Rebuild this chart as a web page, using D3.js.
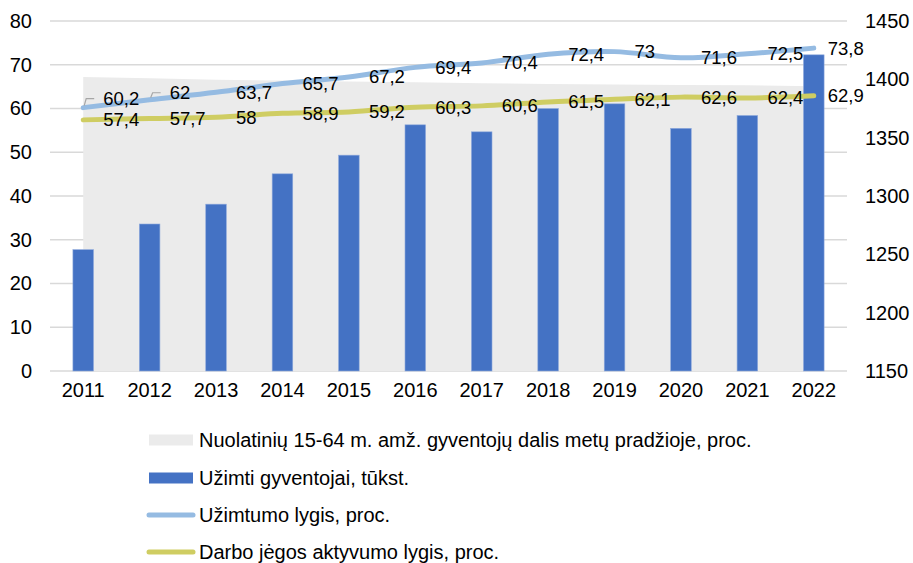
<!DOCTYPE html>
<html>
<head>
<meta charset="utf-8">
<script src="https://cdn.jsdelivr.net/npm/d3@7"></script>
<style>
  body { margin: 0; background: #fff; }
  svg { font-family: "Liberation Sans", Arial, sans-serif; }
</style>
</head>
<body>
<svg id="chart" width="913" height="563"></svg>
<script>
var years = ["2011", "2012", "2013", "2014", "2015", "2016", "2017", "2018", "2019", "2020", "2021", "2022"];
var populationShare = [67.2, 66.9, 66.6, 66.4, 66.2, 66.0, 65.8, 65.6, 65.5, 65.4, 65.3, 65.1];
var employed = [1254, 1276, 1293, 1319, 1335, 1361, 1355, 1375, 1379, 1358, 1369, 1421];
var employmentRate = [60.2, 62, 63.7, 65.7, 67.2, 69.4, 70.4, 72.4, 73, 71.6, 72.5, 73.8];
var activityRate = [57.4, 57.7, 58, 58.9, 59.2, 60.3, 60.6, 61.5, 62.1, 62.6, 62.4, 62.9];
var leftTicks = [0, 10, 20, 30, 40, 50, 60, 70, 80];
var rightTicks = [1150, 1200, 1250, 1300, 1350, 1400, 1450];

var legendNames = [
  "Nuolatinių 15-64 m. amž. gyventojų dalis metų pradžioje, proc.",
  "Užimti gyventojai, tūkst.",
  "Užimtumo lygis, proc.",
  "Darbo jėgos aktyvumo lygis, proc."
];

var colors = {
  area: "#ebebeb",
  bar: "#4472c4",
  employment: "#95bbe2",
  activity: "#cfcd62",
  grid: "#d9d9d9"
};

var plotLeft = 50, plotRight = 847, plotTop = 21, plotBottom = 371;
var svg = d3.select("#chart");

var x = d3.scaleBand().domain(years).range([plotLeft, plotRight]);
var yLeft = d3.scaleLinear().domain([0, 80]).range([plotBottom, plotTop]);
var yRight = d3.scaleLinear().domain([1150, 1450]).range([plotBottom, plotTop]);
var cx = function(d, i) { return x(years[i]) + x.bandwidth() / 2; };

// gridlines
svg.append("g")
  .selectAll("line")
  .data(leftTicks)
  .enter().append("line")
    .attr("x1", plotLeft).attr("x2", plotRight)
    .attr("y1", function(d) { return yLeft(d); })
    .attr("y2", function(d) { return yLeft(d); })
    .attr("stroke", colors.grid)
    .attr("stroke-width", 1.3);

// axes
var leftAxis = svg.append("g")
  .attr("transform", "translate(" + (plotLeft - 18) + ",0)")
  .call(d3.axisLeft(yLeft).tickValues(leftTicks).tickSize(0).tickPadding(0));
var rightAxis = svg.append("g")
  .attr("transform", "translate(" + (plotRight + 18) + ",0)")
  .call(d3.axisRight(yRight).tickValues(rightTicks).tickFormat(d3.format("d")).tickSize(0).tickPadding(0));
var xAxis = svg.append("g")
  .attr("transform", "translate(0," + (plotBottom + 12) + ")")
  .call(d3.axisBottom(x).tickSize(0).tickPadding(0));

[leftAxis, rightAxis, xAxis].forEach(function(g) {
  g.select(".domain").remove();
  g.selectAll("text").attr("font-size", 20).attr("fill", "#000")
    .attr("font-family", "Liberation Sans, Arial, sans-serif");
});

// grey area (left axis)
var area = d3.area()
  .x(cx)
  .y0(yLeft(0))
  .y1(function(d) { return yLeft(d); });
svg.append("path")
  .datum(populationShare)
  .attr("d", area)
  .attr("fill", colors.area);

// bars (right axis)
var barW = x.bandwidth() * 0.31;
svg.append("g")
  .selectAll("rect")
  .data(employed)
  .enter().append("rect")
    .attr("x", function(d, i) { return cx(d, i) - barW / 2; })
    .attr("y", function(d) { return yRight(d); })
    .attr("width", barW)
    .attr("height", function(d) { return plotBottom - yRight(d); })
    .attr("fill", colors.bar)
    .attr("stroke", "#8faadc")
    .attr("stroke-width", 0.6);

// lines
function drawLine(values, color) {
  var line = d3.line()
    .x(cx)
    .y(function(d) { return yLeft(d); })
    .curve(d3.curveCatmullRom.alpha(0.5));
  svg.append("path")
    .datum(values)
    .attr("d", line)
    .attr("fill", "none")
    .attr("stroke", color)
    .attr("stroke-width", 5)
    .attr("stroke-linecap", "round");
}
drawLine(activityRate, colors.activity);
drawLine(employmentRate, colors.employment);

// data labels
var fmt = function(v) { return String(v).replace(".", ","); };
// first two employment labels were dragged up, with leader lines
var nudge = { employment: [-9, -7] };

function drawLabels(values, key) {
  var g = svg.append("g");
  values.forEach(function(v, i) {
    var px = cx(v, i), py = yLeft(v);
    var dy = (nudge[key] && nudge[key][i]) || 0;
    var dx = i === values.length - 1 ? 14 : 20;
    if (dy) {
      g.append("path")
        .attr("d", "M" + (px + 1) + "," + (py - 2) + "L" + (px + 3) + "," + (py + dy) + "L" + (px + 11) + "," + (py + dy))
        .attr("fill", "none")
        .attr("stroke", "#a6a6a6")
        .attr("stroke-width", 1.2);
    }
    g.append("text")
      .attr("x", px + dx)
      .attr("y", py + dy)
      .attr("dy", "0.35em")
      .attr("font-size", 18.5)
      .attr("fill", "#000")
      .text(fmt(v));
  });
}
drawLabels(employmentRate, "employment");
drawLabels(activityRate, "activity");

// legend
var legendY = [440, 478, 515, 552];
var legend = svg.append("g");
legend.append("rect").attr("x", 149).attr("y", legendY[0] - 5.5).attr("width", 44).attr("height", 11).attr("fill", colors.area);
legend.append("rect").attr("x", 149).attr("y", legendY[1] - 5.5).attr("width", 44).attr("height", 11).attr("fill", colors.bar);
legend.append("line").attr("x1", 149).attr("x2", 193).attr("y1", legendY[2]).attr("y2", legendY[2])
  .attr("stroke", colors.employment).attr("stroke-width", 5).attr("stroke-linecap", "round");
legend.append("line").attr("x1", 149).attr("x2", 193).attr("y1", legendY[3]).attr("y2", legendY[3])
  .attr("stroke", colors.activity).attr("stroke-width", 5).attr("stroke-linecap", "round");
legend.selectAll("text")
  .data(legendNames)
  .enter().append("text")
    .attr("x", 199)
    .attr("y", function(d, i) { return legendY[i]; })
    .attr("dy", "0.35em")
    .attr("font-size", 20)
    .attr("fill", "#000")
    .text(function(d) { return d; });
</script>
</body>
</html>
